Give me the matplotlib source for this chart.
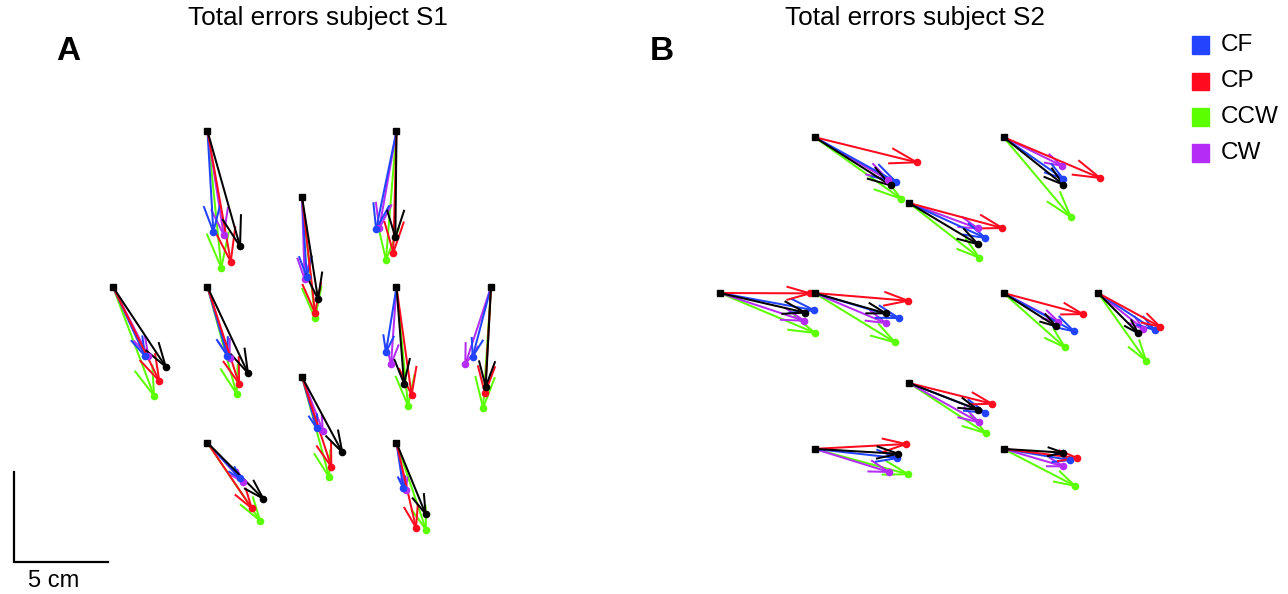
import numpy as np
import matplotlib
matplotlib.use("Agg")
import matplotlib.pyplot as plt
from matplotlib.patches import Rectangle

plt.rcParams['font.family'] = ['Liberation Sans', 'DejaVu Sans']

# --- targets (start points, cm) ---
target_x = [-5, 5, 0, -10, -5, 5, 10, 0, -5, 5]
target_y = [8.66, 8.66, 5, 0, 0, 0, 0, -5, -8.66, -8.66]

# --- subject S1 end points (cm) ---
s1_base_x = [-3.28, 4.94, 0.85, -7.21, -2.86, 5.40, 9.72, 2.13, -2.05, 6.54]
s1_base_y = [2.26, 2.76, -0.68, -4.43, -4.78, -5.37, -5.54, -9.18, -11.76, -12.61]
s1_cf_x = [-4.69, 3.92, 0.25, -8.31, -3.95, 4.44, 9.03, 0.78, -3.28, 5.36]
s1_cf_y = [3.07, 3.21, 0.57, -3.83, -3.82, -3.63, -3.87, -7.85, -10.63, -11.18]
s1_cp_x = [-3.77, 4.83, 0.69, -7.55, -3.33, 5.80, 9.68, 1.55, -2.66, 6.03]
s1_cp_y = [1.41, 1.91, -1.44, -5.22, -5.37, -6.00, -5.91, -9.98, -12.29, -13.37]
s1_ccw_x = [-4.27, 4.44, 0.69, -7.83, -3.46, 5.61, 9.58, 1.44, -2.22, 6.56]
s1_ccw_y = [1.07, 1.50, -1.74, -6.04, -5.94, -6.59, -6.71, -10.57, -12.98, -13.48]
s1_cw_x = [-4.14, 4.09, 0.14, -8.13, -3.83, 4.71, 8.64, 1.10, -3.11, 5.50]
s1_cw_y = [2.89, 3.26, 0.44, -3.83, -3.96, -4.29, -4.29, -7.98, -10.85, -11.28]

# --- subject S2 end points (cm) ---
s2_base_x = [-0.97, 8.16, 3.65, -5.49, -1.23, 7.78, 12.13, 3.63, -0.57, 8.16]
s2_base_y = [5.98, 6.02, 2.71, -1.09, -1.13, -1.85, -2.24, -6.48, -8.93, -8.87]
s2_cf_x = [-0.70, 8.16, 4.04, -5.01, -0.54, 8.73, 13.00, 4.04, -0.62, 8.52]
s2_cf_y = [6.18, 6.35, 3.06, -0.96, -1.39, -2.13, -2.06, -6.65, -9.17, -9.28]
s2_cp_x = [0.41, 10.11, 4.94, -5.24, -0.05, 9.19, 13.28, 4.38, -0.16, 8.90]
s2_cp_y = [7.26, 6.39, 3.61, -0.02, -0.43, -1.17, -1.87, -6.15, -8.39, -9.17]
s2_ccw_x = [-0.42, 8.56, 3.72, -4.97, -0.74, 8.25, 12.54, 4.07, -0.05, 8.77]
s2_ccw_y = [5.24, 4.22, 1.96, -2.22, -2.74, -3.02, -3.76, -7.79, -10.07, -10.71]
s2_cw_x = [-1.10, 8.08, 3.63, -5.56, -1.23, 7.90, 12.40, 3.70, -1.07, 8.16]
s2_cw_y = [6.28, 7.07, 3.59, -1.54, -1.67, -1.59, -2.00, -7.18, -9.94, -9.63]

conditions = ['CF', 'CP', 'CCW', 'CW']
colors = {'base': 'black', 'CF': '#2244ff', 'CP': '#ff0a1e', 'CCW': '#5cff00', 'CW': '#b42cf5'}

W, H = 1288, 594
PX_X, PX_Y = 18.9, 18.0   # pixels per cm


def draw_arrows(ax, ex, ey, color):
    tx = np.array(target_x, float)
    ty = np.array(target_y, float)
    ex = np.array(ex, float)
    ey = np.array(ey, float)
    u, v = ex - tx, ey - ty
    alpha, beta = 0.25, 0.3
    for i in range(len(tx)):
        ax.plot([tx[i], ex[i]], [ty[i], ey[i]], color=color, lw=1.45, zorder=2)
        w1x = ex[i] - alpha * (u[i] + beta * v[i])
        w1y = ey[i] - alpha * (v[i] - beta * u[i])
        w2x = ex[i] - alpha * (u[i] - beta * v[i])
        w2y = ey[i] - alpha * (v[i] + beta * u[i])
        ax.plot([w1x, ex[i], w2x], [w1y, ey[i], w2y], color=color, lw=1.45, zorder=2)
    ax.plot(ex, ey, 'o', color=color, ms=5.5, mec='none', zorder=3)


def make_panel(rect, cx, cy, data):
    left, width = rect
    ax = fig.add_axes([left / W, 0, width / W, 1])
    ax.set_xlim((left - cx) / PX_X, (left + width - cx) / PX_X)
    ax.set_ylim(-(H - cy) / PX_Y, cy / PX_Y)
    ax.axis('off')
    for key in ['CCW', 'CW', 'CF', 'CP', 'base']:
        ex, ey = data[key]
        draw_arrows(ax, ex, ey, colors[key])
    ax.plot(target_x, target_y, 's', color='black', ms=4.8, zorder=4)
    return ax


fig = plt.figure(figsize=(W / 100, H / 100), dpi=100)

ax_a = make_panel((0, 610), 302, 287, {
    'base': (s1_base_x, s1_base_y), 'CF': (s1_cf_x, s1_cf_y),
    'CP': (s1_cp_x, s1_cp_y), 'CCW': (s1_ccw_x, s1_ccw_y), 'CW': (s1_cw_x, s1_cw_y)})
ax_b = make_panel((610, 678), 909, 293, {
    'base': (s2_base_x, s2_base_y), 'CF': (s2_cf_x, s2_cf_y),
    'CP': (s2_cp_x, s2_cp_y), 'CCW': (s2_ccw_x, s2_ccw_y), 'CW': (s2_cw_x, s2_cw_y)})

# scale bar (5 cm)
bar_x0, bar_y0 = (14 - 302) / PX_X, (287 - 562) / PX_Y
ax_a.plot([bar_x0, bar_x0, bar_x0 + 5], [bar_y0 + 5, bar_y0, bar_y0], color='black',
          lw=1.6, solid_joinstyle='miter', clip_on=False)
ax_a.text(bar_x0 + 2.1, bar_y0 - 0.45, '5 cm', ha='center', va='top', fontsize=17)

# titles and panel letters
fig.text(318 / W, 1 - 18 / H, 'Total errors subject S1', ha='center', va='center', fontsize=18.8)
fig.text(915 / W, 1 - 18 / H, 'Total errors subject S2', ha='center', va='center', fontsize=18.8)
fig.text(68 / W, 1 - 51 / H, 'A', ha='center', va='center', fontsize=24, fontweight='bold')
fig.text(662 / W, 1 - 51 / H, 'B', ha='center', va='center', fontsize=24, fontweight='bold')

# legend
for i, lab in enumerate(conditions):
    yc = 45 + i * 36
    fig.patches.append(Rectangle(((1200 - 8.5) / W, 1 - (yc + 8.5) / H), 17 / W, 17 / H,
                                 transform=fig.transFigure, color=colors[lab]))
    fig.text(1221 / W, 1 - yc / H, lab, ha='left', va='center', fontsize=17.5)

fig.savefig('out.png', dpi=100)
